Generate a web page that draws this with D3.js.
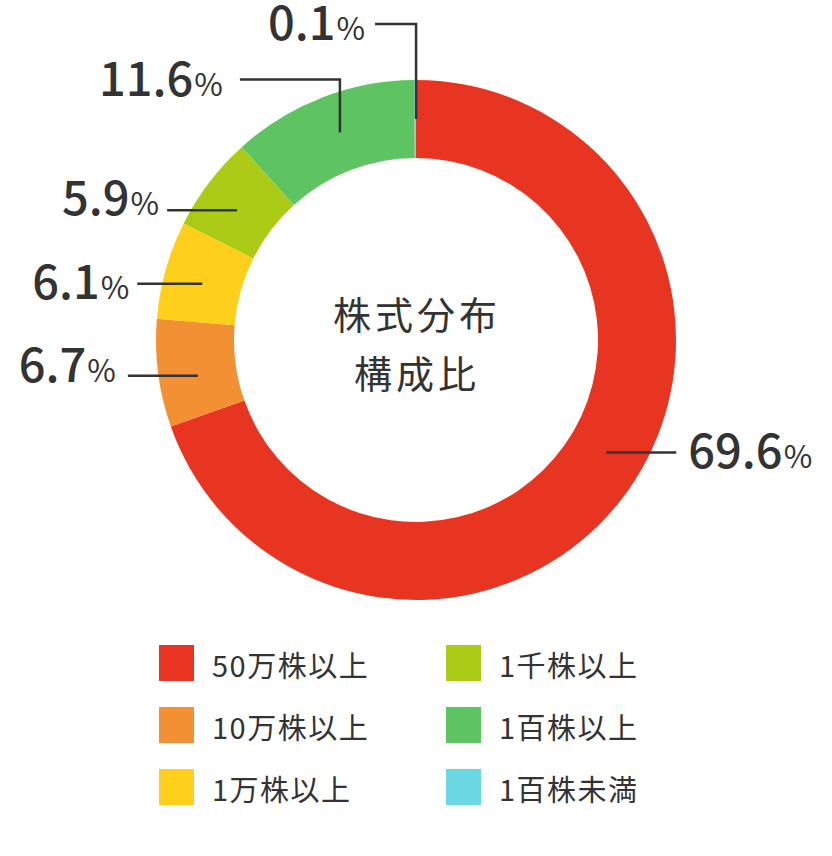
<!DOCTYPE html>
<html>
<head>
<meta charset="utf-8">
<script src="https://cdn.jsdelivr.net/npm/d3@7"></script>
<style>
  body { margin: 0; background: #fff; }
  svg { display: block; font-family: "Noto Sans CJK JP", "Noto Sans", sans-serif; }
</style>
</head>
<body>
<svg id="chart" width="832" height="856"></svg>
<script>
// chart data
const categories = ["50万株以上", "10万株以上", "1万株以上", "1千株以上", "1百株以上", "1百株未満"];
const shares = [69.6, 6.7, 6.1, 5.9, 11.6, 0.1];
const colors = ["#e83522", "#f39034", "#fed01b", "#accb17", "#5ec461", "#6cd8e4"];
const centerTitle = ["株式分布", "構成比"];

// leader line layout: angle nudge (deg), side, vertical rise, horizontal length, text gap, text dy
const labelLayout = [
  { shift: -4.7, dir: 1, rise: 0, len: 70, gap: 12, dy: 16 },
  { shift: -1.9, dir: -1, rise: 0, len: 70, gap: 12, dy: 6 },
  { shift: -0.9, dir: -1, rise: 0, len: 65, gap: 8, dy: 15 },
  { shift: -1.3, dir: -1, rise: 0, len: 70, gap: 8, dy: 5 },
  { shift: 1.1, dir: -1, rise: 53, len: 100, gap: 17, dy: 16 },
  { shift: 0.2, dir: -1, rise: 95, len: 41, gap: 10, dy: 16 }
];

const svg = d3.select("#chart");
const cx = 416, cy = 340;
const outerR = 260, innerR = 182;
const midR = (outerR + innerR) / 2;

const pie = d3.pie().sort(null).value(d => d);
const arcs = pie(shares);
const arc = d3.arc().innerRadius(innerR).outerRadius(outerR);

const g = svg.append("g").attr("transform", `translate(${cx},${cy})`);

g.selectAll("path.slice").data(arcs).join("path")
  .attr("class", "slice")
  .attr("d", arc)
  .attr("fill", (d, i) => colors[i]);

// center title
g.selectAll("text.title").data(centerTitle).join("text")
  .attr("class", "title")
  .attr("x", 1)
  .attr("y", (d, i) => -28 + i * 59)
  .attr("text-anchor", "middle")
  .attr("dominant-baseline", "central")
  .attr("font-size", 38)
  .attr("letter-spacing", 4)
  .attr("fill", "#333")
  .text(d => d);

// leader lines + labels
const labels = arcs.map((d, i) => {
  const L = labelLayout[i];
  const a = (d.startAngle + d.endAngle) / 2 + L.shift * Math.PI / 180;
  const x0 = midR * Math.sin(a), y0 = -midR * Math.cos(a);
  const y1 = y0 - L.rise;
  const x2 = x0 + L.dir * L.len;
  return { i, L, pts: [[x0, y0], [x0, y1], [x2, y1]], tx: x2 + L.dir * L.gap, ty: y1 + L.dy };
});

g.selectAll("path.leader").data(labels).join("path")
  .attr("class", "leader")
  .attr("d", d => d3.line()(d.pts))
  .attr("fill", "none")
  .attr("stroke", "#333")
  .attr("stroke-width", 2.5);

const lt = g.selectAll("text.value").data(labels).join("text")
  .attr("class", "value")
  .attr("x", d => d.tx)
  .attr("y", d => d.ty)
  .attr("text-anchor", d => d.L.dir > 0 ? "start" : "end")
  .attr("fill", "#333");
lt.append("tspan")
  .attr("font-size", 47)
  .attr("font-weight", 500)
  .text(d => shares[d.i].toFixed(1));
lt.append("tspan")
  .attr("font-size", 31)
  .attr("font-weight", 400)
  .attr("dx", 1)
  .text("%");

// legend
const legend = svg.append("g");
const item = legend.selectAll("g").data(categories).join("g")
  .attr("transform", (d, i) => `translate(${159 + Math.floor(i / 3) * 287},${645 + (i % 3) * 62})`);
item.append("rect")
  .attr("width", 35)
  .attr("height", 36)
  .attr("fill", (d, i) => colors[i]);
item.append("text")
  .attr("x", 53)
  .attr("y", 19)
  .attr("dominant-baseline", "central")
  .attr("font-size", 29)
  .attr("letter-spacing", 1.5)
  .attr("fill", "#333")
  .text(d => d);
</script>
</body>
</html>
